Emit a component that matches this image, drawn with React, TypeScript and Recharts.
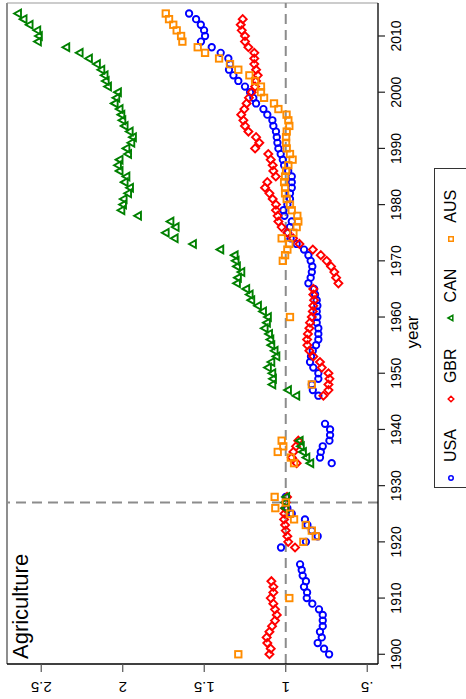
import React from "react";
import { ScatterChart, Scatter, XAxis, YAxis, ReferenceLine, Legend } from "recharts";

// consecutive year runs
const span = (a: number, b: number) => Array.from({ length: b - a + 1 }, (_, i) => a + i);

const usaYears = [...span(1900, 1916), ...span(1919, 1928), ...span(1934, 1941), ...span(1946, 2014)];
const usaValues = [
  0.734, 0.765, 0.804, 0.779, 0.79, 0.773, 0.773, 0.773, 0.796, 0.837, 0.871, 0.869, 0.888, 0.876, 0.896, 0.902, 0.912,
  1.029, 0.876, 0.804, 0.84, 0.867, 0.882, 0.963, 0.99, 1.0, 1.0,
  0.718, 0.79, 0.785, 0.773, 0.732, 0.728, 0.728, 0.759,
  0.8, 0.834, 0.84, 0.8, 0.8, 0.831, 0.851, 0.845, 0.834, 0.814,
  0.8, 0.8, 0.8, 0.81, 0.806, 0.81, 0.806, 0.81, 0.82, 0.826,
  0.861, 0.847, 0.84, 0.837, 0.847, 0.861, 0.888, 0.933, 0.97, 0.988,
  0.974, 0.963, 1.008, 1.014, 0.99, 0.974, 0.974, 0.963, 0.963, 0.963,
  0.985, 1.01, 1.018, 1.031, 1.045, 1.051, 1.055, 1.06, 1.076, 1.082,
  1.113, 1.137, 1.182, 1.199, 1.219, 1.25, 1.291, 1.321, 1.348, 1.342,
  1.352, 1.399, 1.454, 1.52, 1.495, 1.501, 1.521, 1.55, 1.593,
];

const gbrYears = [...span(1900, 1913), ...span(1919, 1928), ...span(1934, 1938), ...span(1946, 2013)];
const gbrValues = [
  1.1, 1.092, 1.113, 1.117, 1.1, 1.084, 1.066, 1.055, 1.066, 1.076, 1.092, 1.076, 1.076, 1.088,
  0.943, 0.985, 0.99, 1.0, 1.004, 1.01, 1.008, 1.004, 1.0, 0.992,
  0.933, 0.963, 0.953, 0.937, 0.923,
  0.769, 0.738, 0.738, 0.732, 0.738, 0.779, 0.79, 0.831, 0.855, 0.867,
  0.869, 0.864, 0.855, 0.851, 0.84, 0.834, 0.831, 0.826, 0.831, 0.831,
  0.677, 0.691, 0.702, 0.722, 0.749, 0.785, 0.834, 0.916, 0.955, 0.99,
  1.025, 1.045, 1.05, 1.06, 1.06, 1.08, 1.1, 1.127, 1.113, 1.061,
  1.076, 1.08, 1.092, 1.107, 1.188, 1.162, 1.182, 1.229, 1.25, 1.26,
  1.273, 1.254, 1.24, 1.226, 1.209, 1.188, 1.182, 1.172, 1.182, 1.193,
  1.193, 1.193, 1.229, 1.25, 1.25, 1.27, 1.276, 1.264,
];

const canYears = [...span(1926, 1928), ...span(1934, 1938), ...span(1946, 2014)];
const canValues = [
  1.0, 1.0, 0.995,
  0.847, 0.871, 0.892, 0.905, 0.912,
  0.933, 0.984, 1.08, 1.076, 1.08, 1.107, 1.086, 1.055, 1.066, 1.086,
  1.092, 1.1, 1.127, 1.113, 1.107, 1.137, 1.168, 1.209, 1.219, 1.24,
  1.297, 1.291, 1.27, 1.297, 1.305, 1.311, 1.399, 1.567, 1.679, 1.734,
  1.673, 1.705, 1.904, 2.006, 1.996, 1.992, 1.965, 1.953, 1.986, 1.975,
  2.017, 2.027, 2.017, 1.965, 1.975, 1.945, 1.935, 1.955, 1.986, 2.0,
  2.006, 2.017, 2.047, 2.037, 2.027, 2.088, 2.102, 2.109, 2.129, 2.156,
  2.205, 2.262, 2.344, 2.518, 2.512, 2.522, 2.569, 2.606, 2.64,
];

const ausYears = [1900, 1910, ...span(1920, 1928), ...span(1934, 1938), 1948, 1960, ...span(1970, 2014)];
const ausValues = [
  1.291, 0.978,
  0.892, 0.816, 0.84, 0.877, 0.949, 0.974, 1.064, 1.0, 1.068,
  0.949, 0.969, 1.049, 1.015, 1.025,
  0.84, 0.974,
  1.018, 1.004, 0.99, 0.978, 1.025, 0.953, 0.933, 0.923, 0.929, 0.963,
  0.974, 0.994, 1.004, 1.004, 1.01, 1.004, 0.998, 0.984, 0.958, 0.974,
  0.994, 0.998, 0.998, 0.994, 0.978, 0.984, 0.995, 1.045, 1.072, 1.133,
  1.152, 1.152, 1.188, 1.223, 1.291, 1.342, 1.409, 1.495, 1.54, 1.634,
  1.642, 1.669, 1.69, 1.716, 1.736,
];

const yearTicks = span(0, 11).map((i) => 1900 + i * 10);
const valueTicks = [0.5, 1, 1.5, 2, 2.5];
const baseYear = 1927;

const toPoints = (years: number[], values: number[]) => years.map((year, i) => ({ year, v: values[i] }));

type Kind = "circle" | "diamond" | "triangle" | "square";

const series: { name: string; color: string; kind: Kind; data: { year: number; v: number }[] }[] = [
  { name: "USA", color: "#0000ff", kind: "circle", data: toPoints(usaYears, usaValues) },
  { name: "GBR", color: "#ff0000", kind: "diamond", data: toPoints(gbrYears, gbrValues) },
  { name: "CAN", color: "#008000", kind: "triangle", data: toPoints(canYears, canValues) },
  { name: "AUS", color: "#ff8c00", kind: "square", data: toPoints(ausYears, ausValues) },
];

const FONT = '"Liberation Sans", Arial, Helvetica, sans-serif';

function Marker({ kind, cx, cy, color, s = 1, w = 1.9 }: { kind: Kind; cx: number; cy: number; color: string; s?: number; w?: number }) {
  if (kind === "circle") return <circle cx={cx} cy={cy} r={3.2 * s} fill="none" stroke={color} strokeWidth={w} />;
  if (kind === "diamond") {
    const r = 4 * s;
    return <polygon points={`${cx},${cy - r} ${cx + r},${cy} ${cx},${cy + r} ${cx - r},${cy}`} fill="none" stroke={color} strokeWidth={w} />;
  }
  if (kind === "triangle") {
    const r = 4.3 * s;
    return (
      <polygon
        points={`${cx},${cy - r} ${cx + r * 0.9},${cy + r * 0.6} ${cx - r * 0.9},${cy + r * 0.6}`}
        fill="none"
        stroke={color}
        strokeWidth={w}
      />
    );
  }
  const h = 3.2 * s;
  return <rect x={cx - h} y={cy - h} width={2 * h} height={2 * h} fill="none" stroke={color} strokeWidth={w} />;
}

const YearTick = (p: any) => (
  <text x={p.x} y={401} textAnchor="middle" fontSize={14} fontFamily={FONT} fill="#000">
    {p.payload.value}
  </text>
);

const ValueTick = (p: any) => {
  const v = p.payload.value;
  return (
    <text x={17.5} y={p.y} transform={`rotate(-90 17.5 ${p.y})`} textAnchor="middle" fontSize={15} fontFamily={FONT} fill="#000">
      {v === 0.5 ? ".5" : String(v)}
    </text>
  );
};

function LegendBox() {
  return (
    <div
      style={{
        position: "absolute",
        left: 0,
        top: 0,
        width: 320,
        height: 44,
        boxSizing: "border-box",
        border: "1px solid #333",
        background: "#fff",
        display: "flex",
        alignItems: "flex-start",
        paddingLeft: 4,
        fontFamily: FONT,
        fontSize: 16,
        lineHeight: 1,
      }}
    >
      {series.map((s) => (
        <div key={s.name} style={{ display: "flex", alignItems: "center", height: 32, marginRight: 25 }}>
          <svg width={10} height={10} style={{ marginRight: 11 }}>
            <Marker kind={s.kind} cx={5} cy={5} color={s.color} s={0.7} w={1.5} />
          </svg>
          <span>{s.name}</span>
        </div>
      ))}
    </div>
  );
}

export default function App() {
  return (
    <div style={{ position: "fixed", left: 0, top: 0, width: 466, height: 699, overflow: "hidden", background: "#fff" }}>
      <div
        style={{
          position: "absolute",
          left: 0,
          top: 0,
          width: 699,
          height: 466,
          transformOrigin: "0 0",
          transform: "translate(0px, 699px) rotate(-90deg)",
        }}
      >
        <ScatterChart width={699} height={466} margin={{ top: 7, right: 3, bottom: 0, left: 0 }}>
          <XAxis
            type="number"
            dataKey="year"
            domain={[1898.27, 2015.87]}
            ticks={yearTicks}
            allowDataOverflow
            height={88}
            tickSize={7}
            tick={YearTick}
            axisLine={{ stroke: "#000", strokeWidth: 1.3 }}
            tickLine={{ stroke: "#222", strokeWidth: 1.2 }}
          />
          <YAxis
            type="number"
            dataKey="v"
            domain={[0.434, 2.71]}
            ticks={valueTicks}
            allowDataOverflow
            width={35}
            tickSize={8}
            tick={ValueTick}
            axisLine={{ stroke: "#000", strokeWidth: 1.3 }}
            tickLine={{ stroke: "#555", strokeWidth: 1.2 }}
          />
          <ReferenceLine y={2.71} stroke="#444" strokeWidth={1.2} />
          <ReferenceLine x={2015.87} stroke="#999" strokeWidth={1.2} />
          <ReferenceLine x={baseYear} stroke="#8c8c8c" strokeWidth={2} strokeDasharray="10 6" />
          <ReferenceLine y={1} stroke="#8c8c8c" strokeWidth={2} strokeDasharray="10 6" />
          {series.map((s) => (
            <Scatter
              key={s.name}
              name={s.name}
              data={s.data}
              isAnimationActive={false}
              shape={(p: any) => <Marker kind={s.kind} cx={p.cx} cy={p.cy} color={s.color} />}
            />
          ))}
          <Legend content={() => <LegendBox />} wrapperStyle={{ left: 211, top: 434, bottom: "auto", width: 0, height: 0 }} />
          <text x={40} y={28} fontSize={22} fontFamily={FONT} fill="#000">
            Agriculture
          </text>
          <text x={367} y={418} textAnchor="middle" fontSize={17} fontFamily={FONT} fill="#000">
            year
          </text>
        </ScatterChart>
      </div>
    </div>
  );
}
